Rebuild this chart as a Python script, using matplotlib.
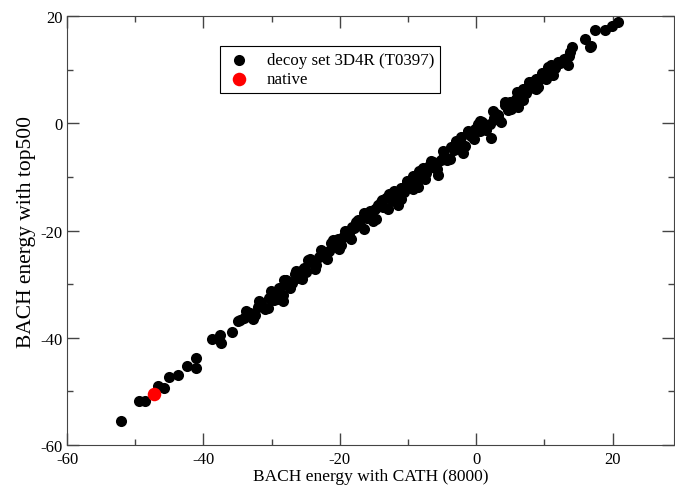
#!/usr/bin/env python3

import matplotlib
matplotlib.use('Agg')
import matplotlib.pyplot as plt
from matplotlib.ticker import MultipleLocator

# decoy set energies: (CATH 8000, top500)
decoy_x = [
    -52.1, -49.4, -48.6, -46.6, -45.8, -45.1, -43.8, -42.4, -41.1, -41.1,
    -38.8, -37.6, -37.4,
    -35.8, -35.0, -34.6, -34.0, -33.1, -32.4, -32.0, -31.5, -30.6, -30.4,
    -29.7, -29.2, -28.9, -28.4, -28.4, -27.9, -27.7, -27.0, -26.5, -26.0,
    -25.7, -25.3, -24.9, -24.5, -24.3, -23.8, -23.5, -23.0, -22.5, -22.1,
    -21.6, -21.3, -20.8, -20.3, -19.9, -19.5, -19.1, -18.6, -18.2, -17.9,
    -17.4, -17.6, -17.0, -16.4, -16.0, -15.6, -15.2, -14.8, -14.4, -14.0,
    -13.6, -13.2, -12.8, -12.4, -11.9, -11.5, -11.0, -10.6, -10.1, -9.7,
    -9.3, -8.9, -8.6, -8.2, -7.8, -7.3, -6.9, -6.4, -6.0, -5.6,
    -5.2, -4.7, -4.3, -3.7, -3.2, -2.7, -2.2, -2.0, -1.7, -1.2,
    -0.7, -0.2, 0.3, 0.5, 0.9, 1.4, 2.0, 2.2, 2.6, 2.9,
    3.2, 3.7, 4.2, 4.6, 4.9, 5.4, 5.9, 6.1, 6.4, 6.9,
    7.3, 7.7, 8.1, 8.5, 8.8, 9.1, 9.6, 10.3, 10.5, 10.5,
    11.0, 11.5, 12.0, 12.3, 13.5, 13.6, 13.7, 14.0, 15.9, 16.7,
    16.8, 17.4, 18.9, 19.9, 20.8,
    -33.8, -32.8, -31.9, -31.0, -30.1, -29.2, -28.2, -27.3, -26.4, -25.5,
    -24.6, -23.7, -22.8, -21.9, -21.0, -20.1, -19.2, -18.3, -16.5, -15.6,
    -14.7, -13.8, -12.9, -12.0, -11.1, -10.2, -9.3, -8.4, -7.5, -6.6,
    -5.7, -4.8, -3.9, -3.0, -2.1, -1.2, -0.3, 0.6, 1.5, 2.4,
    3.3, 4.2, 5.1, 6.0, 6.9, 7.8, 8.7, 9.6, 11.2, 12.8,
]
decoy_y = [
    -55.5, -51.8, -51.7, -49.0, -49.4, -47.4, -46.9, -45.2, -43.7, -45.6,
    -40.3, -39.4, -40.9,
    -38.9, -36.9, -36.7, -36.4, -35.3, -35.8, -34.2, -33.7, -34.4, -32.6,
    -32.9, -31.4, -30.7, -33.2, -32.0, -29.3, -30.1, -29.8, -28.2, -28.9,
    -27.6, -27.0, -27.7, -25.8, -25.4, -25.9, -26.4, -24.9, -24.8, -24.5,
    -23.8, -22.3, -22.5, -21.6, -22.7, -21.2, -20.2, -20.8, -19.4, -19.6,
    -18.1, -18.4, -18.9, -16.8, -17.6, -16.5, -18.3, -16.0, -15.2, -14.6,
    -15.6, -14.0, -13.1, -14.3, -13.2, -15.2, -12.1, -12.9, -11.2, -11.8,
    -9.8, -10.5, -11.8, -9.6, -8.4, -9.2, -8.0, -7.2, -8.3, -9.7,
    -6.8, -5.9, -6.9, -4.4, -5.0, -3.6, -2.6, -5.6, -4.3, -1.6,
    -2.4, -1.0, -0.1, -1.4, 0.2, -0.6, -0.1, -2.8, 1.0, 1.8,
    1.5, 0.3, 3.4, 2.5, 4.0, 3.6, 4.6, 3.0, 5.4, 6.4,
    5.6, 7.1, 7.7, 6.6, 8.2, 6.8, 8.5, 8.3, 9.2, 10.5,
    10.8, 10.3, 11.4, 11.2, 10.8, 12.6, 13.3, 14.2, 15.7, 14.2,
    14.4, 17.3, 17.3, 18.2, 18.9,
    -35.0, -36.5, -33.1, -34.6, -31.3, -32.8, -29.3, -30.8, -27.5, -29.0,
    -25.5, -27.1, -23.7, -25.3, -21.8, -23.4, -20.0, -21.5, -19.7, -16.3,
    -17.8, -14.4, -16.0, -12.6, -14.1, -10.7, -12.3, -8.9, -10.4, -7.0,
    -8.6, -5.1, -6.7, -3.3, -4.9, -1.4, -3.0, 0.4, -1.2, 2.2,
    0.7, 4.0, 2.6, 5.9, 4.4, 7.7, 6.3, 9.4, 9.0, 12.0,
]
native_x = [-47.3]
native_y = [-50.5]


def main():
    plt.rcParams['font.family'] = ['Liberation Serif', 'DejaVu Serif']
    plt.rcParams['axes.unicode_minus'] = False
    fig = plt.figure(figsize=(6.75, 4.89), dpi=100)
    ax = fig.add_axes([0.0993, 0.0879, 0.8992, 0.8773])

    ax.scatter(decoy_x, decoy_y, s=64, c='black', linewidths=0,
               label='decoy set 3D4R (T0397)', zorder=2)
    ax.scatter(native_x, native_y, s=95, c='#ff0000', linewidths=0,
               label='native', zorder=3)

    ax.set_xlim(-60, 29)
    ax.set_ylim(-60, 20)
    ax.xaxis.set_major_locator(MultipleLocator(20))
    ax.xaxis.set_minor_locator(MultipleLocator(10))
    ax.yaxis.set_major_locator(MultipleLocator(20))
    ax.yaxis.set_minor_locator(MultipleLocator(10))
    ax.tick_params(which='both', direction='in', top=True, right=True,
                   color='#444444', width=1, labelsize=12)
    ax.tick_params(which='major', length=8.6)
    ax.tick_params(which='minor', length=4.3)
    ax.tick_params(axis='x', pad=4)
    ax.tick_params(axis='y', pad=3)
    for sp in ax.spines.values():
        sp.set_color('#444444')

    ax.set_xlabel('BACH energy with CATH (8000)', fontsize=12.5, labelpad=1)
    ax.set_ylabel('BACH energy with top500', fontsize=15.5, labelpad=3)

    leg = ax.legend(loc='upper left', bbox_to_anchor=(0.252, 0.930),
                    fontsize=12.2, fancybox=False, framealpha=1,
                    handletextpad=0.8, borderpad=0.35, labelspacing=0.2,
                    handlelength=1.6, borderaxespad=0)
    leg.get_frame().set_edgecolor('black')
    leg.get_frame().set_linewidth(0.8)

    fig.savefig('out.png', dpi=100)
    plt.close(fig)


if __name__ == '__main__':
    main()
